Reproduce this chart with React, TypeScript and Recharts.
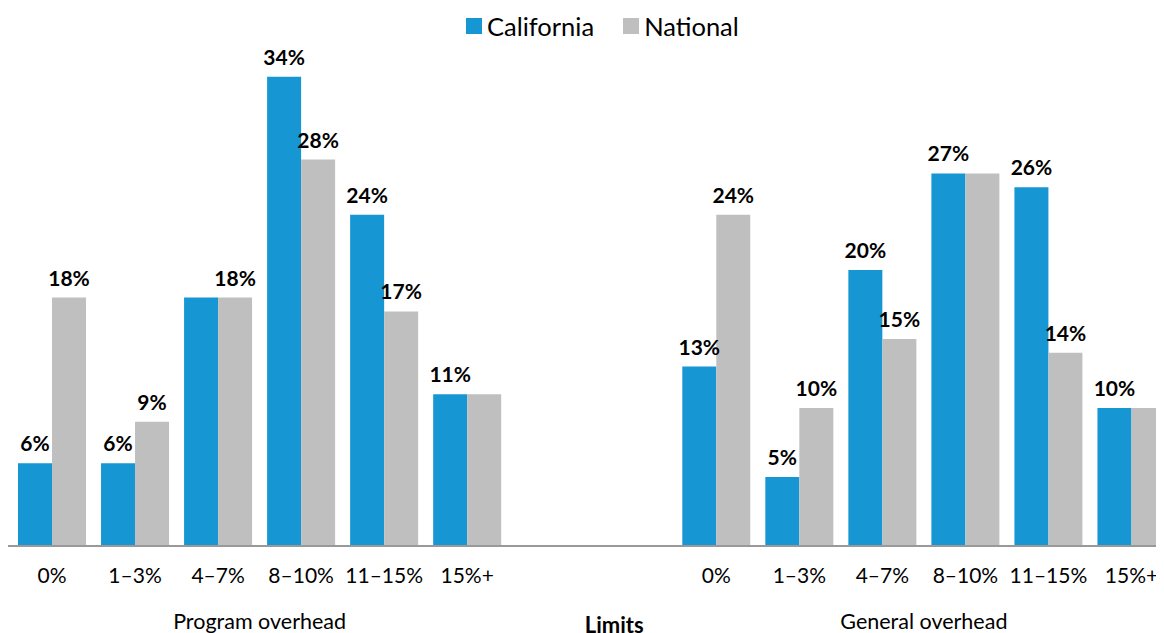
import React from "react";
import { BarChart, Bar, XAxis, YAxis, LabelList } from "recharts";

const tickLabels = ["0%", "1–3%", "4–7%", "8–10%", "11–15%", "15%+"];
const programCalifornia = [6, 6, 18, 34, 24, 11];
const programNational = [18, 9, 18, 28, 17, 11];
const generalCalifornia = [13, 5, 20, 27, 26, 10];
const generalNational = [24, 10, 15, 27, 14, 10];
// program rows where both bars tie and the single label sits on the National bar
const programTieOnNational = [2];

const BLUE = "#1696d2";
const GRAY = "#bfbfbf";
const FONT = "Lato, sans-serif";

const CHART_W = 1165;
const CHART_H = 625;
const PAD_LEFT = 2.5;
const BAND = (CHART_W - PAD_LEFT) / 14;

function row(label: string, ca: number, nat: number, natWins: boolean) {
  const tie = ca === nat;
  return {
    label,
    ca,
    nat,
    caLabel: tie && natWins ? null : ca,
    natLabel: tie && !natWins ? null : nat,
  };
}

const data = [
  ...tickLabels.map((t, i) =>
    row(t, programCalifornia[i], programNational[i], programTieOnNational.includes(i))
  ),
  { label: "", ca: null, nat: null, caLabel: null, natLabel: null },
  { label: "", ca: null, nat: null, caLabel: null, natLabel: null },
  ...tickLabels.map((t, i) => row(t, generalCalifornia[i], generalNational[i], false)),
];

function CategoryTick(props: any) {
  const { x, y, payload, index } = props;
  return (
    <g>
      <text x={x} y={y} dy={37} textAnchor="middle" fontFamily={FONT} fontSize={21} fill="#000">
        {payload.value}
      </text>
      {index === 2 && (
        <text x={x + BAND / 2} y={y} dy={83} textAnchor="middle" fontFamily={FONT} fontSize={21.5} fill="#000">
          Program overhead
        </text>
      )}
      {index === 10 && (
        <text x={x + BAND / 2} y={y} dy={83} textAnchor="middle" fontFamily={FONT} fontSize={21.5} fill="#000">
          General overhead
        </text>
      )}
      {index === 7 && (
        <text x={x - 19} y={y} dy={87} textAnchor="middle" fontFamily={FONT} fontSize={22} fontWeight={700} fill="#000">
          Limits
        </text>
      )}
    </g>
  );
}

function BarValue(props: any) {
  const { x, y, width, value } = props;
  if (value == null) return null;
  return (
    <text
      x={x + width / 2}
      y={y - 12}
      textAnchor="middle"
      fontFamily={FONT}
      fontSize={21}
      fontWeight={700}
      fill="#000"
    >
      {value}%
    </text>
  );
}

function LegendBox() {
  const item = (color: string, text: string, gap: number) => (
    <span style={{ display: "inline-flex", alignItems: "center", marginRight: gap }}>
      <span style={{ width: 16, height: 16, background: color, display: "inline-block", marginRight: 5 }} />
      <span>{text}</span>
    </span>
  );
  return (
    <div
      style={{
        position: "absolute",
        left: 458,
        top: 3,
        fontFamily: FONT,
        fontSize: 25.5,
        color: "#000",
        display: "flex",
        whiteSpace: "nowrap",
      }}
    >
      {item(BLUE, "California", 29)}
      {item(GRAY, "National", 0)}
    </div>
  );
}

export default function App() {
  return (
    <div style={{ position: "relative", width: 1156, height: 625, overflow: "hidden" }}>
      <BarChart
        width={CHART_W}
        height={CHART_H}
        data={data}
        margin={{ top: 55, right: 0, left: 0, bottom: 0 }}
        barCategoryGap={7.5}
        barGap={0}
      >
        <XAxis
          dataKey="label"
          height={87}
          tickLine={false}
          tickSize={0}
          tickMargin={0}
          axisLine={{ stroke: "#999", strokeWidth: 2 }}
          interval={0}
          padding={{ left: PAD_LEFT, right: 0 }}
          tick={<CategoryTick />}
        />
        <YAxis hide domain={[0, 35]} />
        <Bar dataKey="ca" fill={BLUE} isAnimationActive={false}>
          <LabelList dataKey="caLabel" content={<BarValue />} />
        </Bar>
        <Bar dataKey="nat" fill={GRAY} isAnimationActive={false}>
          <LabelList dataKey="natLabel" content={<BarValue />} />
        </Bar>
      </BarChart>
      <LegendBox />
    </div>
  );
}
